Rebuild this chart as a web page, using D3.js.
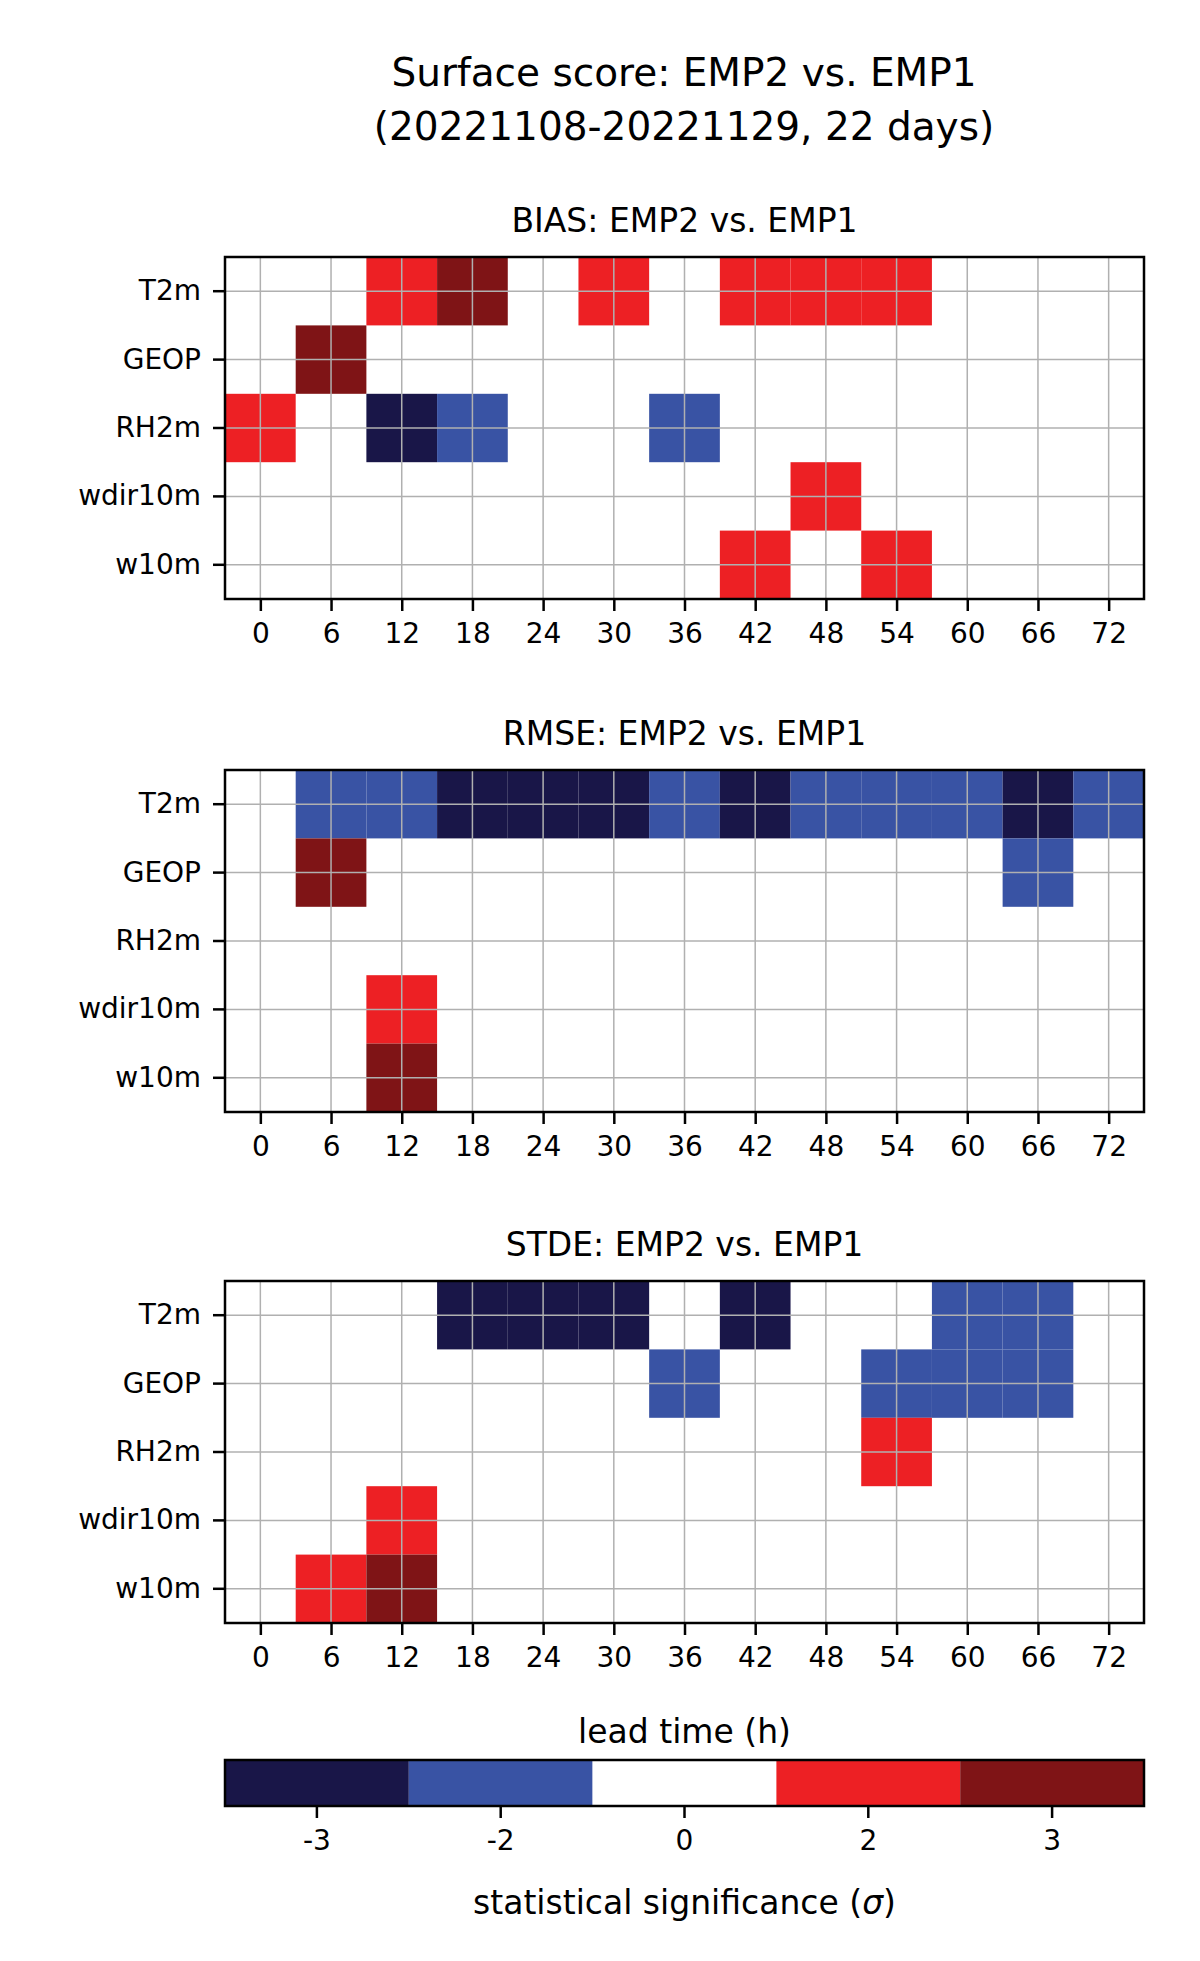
<!DOCTYPE html>
<html><head><meta charset="utf-8">
<script src="https://cdn.jsdelivr.net/npm/d3@7"></script>
<style>body{margin:0;background:#fff}text{font-family:"DejaVu Sans",sans-serif;fill:#000}</style>
</head><body><div id="graphic"></div>
<script>
var leads = [0,6,12,18,24,30,36,42,48,54,60,66,72];
var params = ["T2m","GEOP","RH2m","wdir10m","w10m"];
var levels = [-3,-2,0,2,3];
var levelColors = ["#191648","#3953a4","#ffffff","#ed2024","#7f1416"];
// [param, lead, level]
var biasCells = [["T2m",12,2],["T2m",18,3],["T2m",30,2],["T2m",42,2],["T2m",48,2],["T2m",54,2],
  ["GEOP",6,3],["RH2m",0,2],["RH2m",12,-3],["RH2m",18,-2],["RH2m",36,-2],
  ["wdir10m",48,2],["w10m",42,2],["w10m",54,2]];
var rmseCells = [["T2m",6,-2],["T2m",12,-2],["T2m",18,-3],["T2m",24,-3],["T2m",30,-3],["T2m",36,-2],
  ["T2m",42,-3],["T2m",48,-2],["T2m",54,-2],["T2m",60,-2],["T2m",66,-3],["T2m",72,-2],
  ["GEOP",6,3],["GEOP",66,-2],["wdir10m",12,2],["w10m",12,3]];
var stdeCells = [["T2m",18,-3],["T2m",24,-3],["T2m",30,-3],["T2m",42,-3],["T2m",60,-2],["T2m",66,-2],
  ["GEOP",36,-2],["GEOP",54,-2],["GEOP",60,-2],["GEOP",66,-2],["RH2m",54,2],
  ["wdir10m",12,2],["w10m",6,2],["w10m",12,3]];
var panels = [
  {title:"BIAS: EMP2 vs. EMP1", cells:biasCells, top:257},
  {title:"RMSE: EMP2 vs. EMP1", cells:rmseCells, top:770},
  {title:"STDE: EMP2 vs. EMP1", cells:stdeCells, top:1281}
];

var width = 1200, height = 1961;
var left = 225, right = 1144, ph = 342;
var svg = d3.select("#graphic").append("svg").attr("width",width).attr("height",height);
var color = d3.scaleOrdinal().domain(levels).range(levelColors);
var x = d3.scaleLinear().domain([-3,75]).range([left,right]);
var y = d3.scaleBand().domain(params).range([0,ph]);

svg.append("text").attr("x",684).attr("y",86).attr("text-anchor","middle").style("font-size","39px").text("Surface score: EMP2 vs. EMP1");
svg.append("text").attr("x",684).attr("y",140).attr("text-anchor","middle").style("font-size","39px").text("(20221108-20221129, 22 days)");

panels.forEach(function(p, i) {
  var g = svg.append("g").attr("transform","translate(0," + p.top + ")");
  g.append("text").attr("x",(left+right)/2).attr("y",-25).attr("text-anchor","middle").style("font-size","33px").text(p.title);
  g.selectAll(".cell").data(p.cells).enter().append("rect")
    .attr("x", function(d){ return x(d[1]-3); })
    .attr("width", x(6)-x(0))
    .attr("y", function(d){ return y(d[0]); })
    .attr("height", y.bandwidth())
    .attr("fill", function(d){ return color(d[2]); });
  // grid
  g.selectAll(".vg").data(leads).enter().append("line")
    .attr("x1",function(d){return x(d);}).attr("x2",function(d){return x(d);})
    .attr("y1",0).attr("y2",ph).attr("stroke","#b0b0b0").attr("stroke-width",1.5);
  g.selectAll(".hg").data(params).enter().append("line")
    .attr("y1",function(d){return y(d)+y.bandwidth()/2;}).attr("y2",function(d){return y(d)+y.bandwidth()/2;})
    .attr("x1",left).attr("x2",right).attr("stroke","#b0b0b0").attr("stroke-width",1.5);
  g.append("rect").attr("x",left).attr("y",0).attr("width",right-left).attr("height",ph)
    .attr("fill","none").attr("stroke","#000").attr("stroke-width",2.5);
  var xa = g.append("g").attr("transform","translate(0," + ph + ")")
    .call(d3.axisBottom(x).tickValues(leads).tickSize(12).tickPadding(12));
  var ya = g.append("g").attr("transform","translate(" + left + ",0)")
    .call(d3.axisLeft(y).tickSize(12).tickPadding(12));
  [xa, ya].forEach(function(a){
    a.select(".domain").remove();
    a.selectAll("line").attr("stroke","#000").attr("stroke-width",2.5);
    a.selectAll("text").style("font-size","28px").style("font-family","DejaVu Sans");
  });
  if (i == 2) {
    g.append("text").attr("x",(left+right)/2).attr("y",ph+120).attr("text-anchor","middle").style("font-size","33px").text("lead time (h)");
  }
});

// colorbar
var cbTop = 1760, cbH = 46;
var cb = d3.scaleBand().domain(levels).range([left,right]);
svg.selectAll(".cb").data(levels).enter().append("rect")
  .attr("x",function(d){return cb(d);}).attr("width",cb.bandwidth())
  .attr("y",cbTop).attr("height",cbH).attr("fill",function(d){return color(d);});
svg.append("rect").attr("x",left).attr("y",cbTop).attr("width",right-left).attr("height",cbH)
  .attr("fill","none").attr("stroke","#000").attr("stroke-width",2.5);
var ca = svg.append("g").attr("transform","translate(0," + (cbTop+cbH) + ")")
  .call(d3.axisBottom(cb).tickSize(12).tickPadding(12));
ca.select(".domain").remove();
ca.selectAll("line").attr("stroke","#000").attr("stroke-width",2.5);
ca.selectAll("text").style("font-size","28px").style("font-family","DejaVu Sans");
svg.append("text").attr("x",(left+right)/2).attr("y",1914).attr("text-anchor","middle").style("font-size","33px")
  .html('statistical significance (<tspan font-style="italic">σ</tspan>)');
</script></body></html>
